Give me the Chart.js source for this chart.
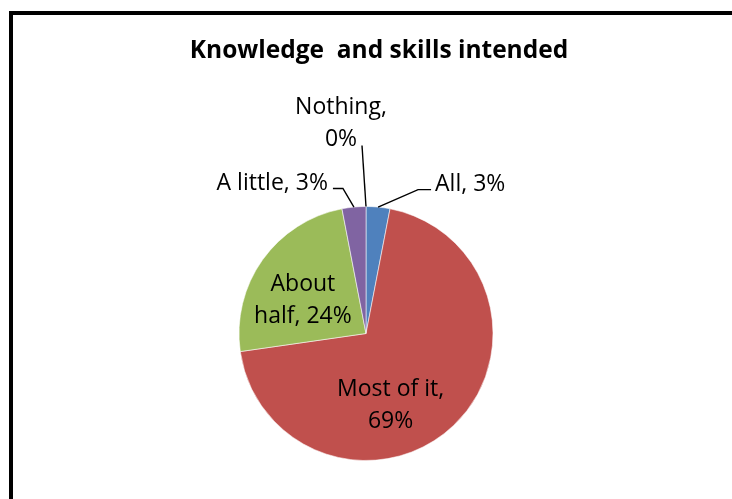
<!DOCTYPE html>
<html>
<head>
<meta charset="utf-8">
<script src="https://cdn.jsdelivr.net/npm/chart.js@4.4.1/dist/chart.umd.min.js"></script>
<style>
  html, body { margin: 0; padding: 0; background: #ffffff; }
  #wrap { position: relative; width: 732px; height: 499px; overflow: hidden; }
  #c { position: absolute; left: 0; top: 0; }
  #frame { position: absolute; left: 9px; top: 11px; width: 800px; height: 600px;
           border-left: 4px solid #000; border-top: 4px solid #000; pointer-events: none; }
</style>
</head>
<body>
<div id="wrap">
  <canvas id="c" width="732" height="499"></canvas>
  <div id="frame"></div>
</div>
<script>
// ---- data ----
const chartTitle = 'Knowledge  and skills intended';
const categories = ['All', 'Most of it', 'About half', 'A little', 'Nothing'];
const values = [3, 69, 24, 3, 0];            // percent
const sliceColors = ['#4F81BD', '#C0504D', '#9BBB59', '#8064A2', '#4BACC6'];

// ---- label styling (placement relative to each slice, wrap widths) ----
// inside: anchor at fraction of radius along the mid-angle, plus a nudge
// outside: leader from slice edge at mid-angle to an elbow, then a short horizontal run
const labelStyle = [
  { mode: 'out', elbow: [40, -17.5], run: 13, gap: 4, wrap: 200 },
  { mode: 'in', frac: 0.6, nudge: [-28, 15.5], wrap: 115 },
  { mode: 'in', frac: 0.6, nudge: [-1, 9.5], wrap: 100 },
  { mode: 'out', elbow: [-11, -18.6], run: -10, gap: 5, wrap: 200 },
  { mode: 'top', elbow: [-4, -61], textDx: -25, wrap: 95 }
];
const FONT_FAMILY = '"Open Sans", "Noto Sans", sans-serif';
const LABEL_SIZE = 23;
const LINE_H = 32;
const CAP = 0.714 * LABEL_SIZE;

function wrapText(ctx, text, maxW) {
  const words = text.split(' ');
  const lines = [];
  let cur = '';
  for (const w of words) {
    const t = cur ? cur + ' ' + w : w;
    if (cur && ctx.measureText(t).width > maxW) { lines.push(cur); cur = w; }
    else cur = t;
  }
  if (cur) lines.push(cur);
  return lines;
}

const labelPlugin = {
  id: 'excelLabels',
  afterDraw(chart) {
    const ctx = chart.ctx;
    const meta = chart.getDatasetMeta(0);
    ctx.save();
    // title
    ctx.fillStyle = '#000';
    ctx.font = 'bold 24.5px ' + FONT_FAMILY;
    ctx.textAlign = 'center';
    ctx.textBaseline = 'alphabetic';
    ctx.fillText(chartTitle, chart.width / 2 + 13, 58);

    ctx.font = LABEL_SIZE + 'px ' + FONT_FAMILY;
    meta.data.forEach((arc, i) => {
      const st = labelStyle[i];
      const text = categories[i] + ', ' + values[i] + '%';
      const lines = wrapText(ctx, text, st.wrap);
      const mid = (arc.startAngle + arc.endAngle) / 2;
      const cos = Math.cos(mid), sin = Math.sin(mid);
      ctx.fillStyle = '#000';
      if (st.mode === 'in') {
        const r = arc.outerRadius * st.frac;
        const cx = arc.x + cos * r + st.nudge[0];
        const cy = arc.y + sin * r + st.nudge[1];
        ctx.textAlign = 'center';
        lines.forEach((ln, k) => {
          const base = cy - (lines.length - 1) * LINE_H / 2 + k * LINE_H + CAP / 2;
          ctx.fillText(ln, cx, base);
        });
      } else {
        const ex = arc.x + cos * arc.outerRadius;
        const ey = arc.y + sin * arc.outerRadius;
        const bx = ex + st.elbow[0], by = ey + st.elbow[1];
        ctx.strokeStyle = '#000';
        ctx.lineWidth = 1.4;
        ctx.beginPath();
        ctx.moveTo(ex, ey);
        ctx.lineTo(bx, by);
        if (st.mode === 'out') ctx.lineTo(bx + st.run, by);
        ctx.stroke();
        if (st.mode === 'out') {
          const tx = bx + st.run + (st.run > 0 ? st.gap : -st.gap);
          ctx.textAlign = st.run > 0 ? 'left' : 'right';
          ctx.fillText(lines.join(' '), tx, by + 1.5);
        } else {
          ctx.textAlign = 'center';
          const tx = ex + st.textDx;
          lines.forEach((ln, k) => {
            ctx.fillText(ln, tx, by - (lines.length - 1 - k) * LINE_H);
          });
        }
      }
    });
    ctx.restore();
  }
};

new Chart(document.getElementById('c'), {
  type: 'pie',
  data: {
    labels: categories,
    datasets: [{
      data: values,
      backgroundColor: sliceColors,
      borderColor: 'rgba(255,255,255,0.55)',
      borderWidth: 1
    }]
  },
  options: {
    responsive: false,
    animation: false,
    events: [],
    layout: { padding: { top: 206, bottom: 38, left: 0, right: 0 } },
    plugins: {
      legend: { display: false },
      tooltip: { enabled: false },
      title: { display: false }
    }
  },
  plugins: [labelPlugin]
});
</script>
</body>
</html>
